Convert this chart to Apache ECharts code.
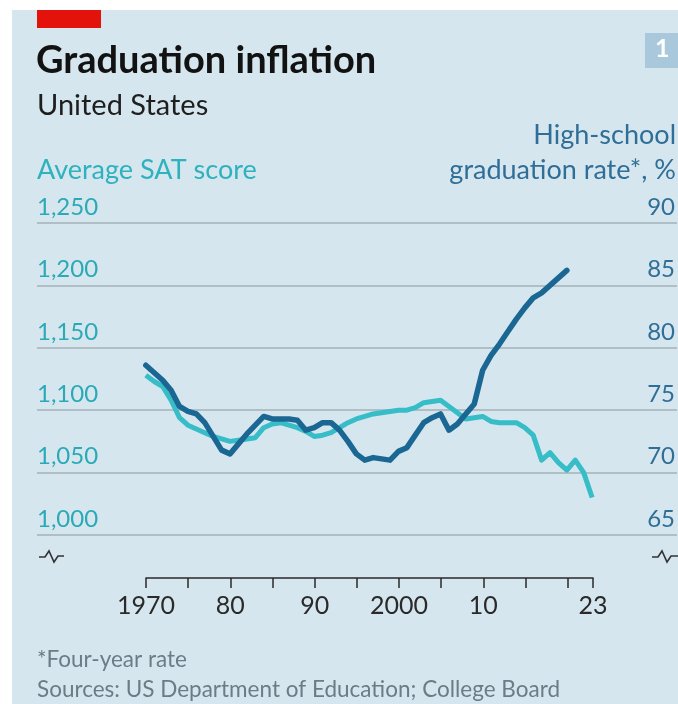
<!DOCTYPE html>
<html>
<head>
<meta charset="utf-8">
<script src="https://cdn.jsdelivr.net/npm/echarts@6/dist/echarts.min.js"></script>
<style>
  html, body { margin: 0; padding: 0; background: #fff; }
  #chart { width: 678px; height: 704px; }
</style>
</head>
<body>
<div id="chart"></div>
<script>
// years 1970-2023
const years = [
  1970, 1971, 1972, 1973, 1974, 1975, 1976, 1977, 1978, 1979,
  1980, 1981, 1982, 1983, 1984, 1985, 1986, 1987, 1988, 1989,
  1990, 1991, 1992, 1993, 1994, 1995, 1996, 1997, 1998, 1999,
  2000, 2001, 2002, 2003, 2004, 2005, 2006, 2007, 2008, 2009,
  2010, 2011, 2012, 2013, 2014, 2015, 2016, 2017, 2018, 2019,
  2020, 2021, 2022, 2023,
];
// average SAT score, 1970-2023
const satScore = [
  1128, 1123, 1119, 1108, 1094, 1088, 1085, 1082, 1079, 1077,
  1075, 1076, 1077, 1078, 1086, 1089, 1090, 1088, 1086, 1083,
  1079, 1080, 1082, 1086, 1090, 1093, 1095, 1097, 1098, 1099,
  1100, 1100, 1102, 1106, 1107, 1108, 1103, 1098, 1093, 1094,
  1095, 1091, 1090, 1090, 1090, 1086, 1080, 1060, 1066, 1058,
  1052, 1060, 1050, 1030,
];
// high-school graduation rate (four-year), %, 1970-2020
const gradRate = [
  78.6, 78.0, 77.4, 76.6, 75.3, 74.9, 74.7, 74.0, 72.9, 71.8,
  71.5, 72.3, 73.1, 73.8, 74.5, 74.3, 74.3, 74.3, 74.2, 73.4,
  73.6, 74.0, 74.0, 73.4, 72.5, 71.5, 71.0, 71.2, 71.1, 71.0,
  71.7, 72.0, 73.0, 74.0, 74.4, 74.7, 73.4, 73.9, 74.7, 75.5,
  78.2, 79.4, 80.3, 81.3, 82.3, 83.2, 84.0, 84.4, 85.0, 85.6,
  86.2,
];
const tickYears = [1970, 1975, 1980, 1985, 1990, 1995, 2000, 2005, 2010, 2015, 2020, 2023];
const labelYears = [1970, 1980, 1990, 2000, 2010, 2023];

const FONT = "Lato, 'Open Sans', sans-serif";
const CYAN = "#36bdc7";
const BLUE = "#1b6794";
const BG = "#d6e6ee";

const chart = echarts.init(document.getElementById("chart"));

const opt = {
  backgroundColor: "#fff",
  animation: false,
  textStyle: { fontFamily: FONT },
  graphic: [
    { type: "rect", z: -10, shape: { x: 12, y: 10, width: 666, height: 694 }, style: { fill: BG } },
    { type: "rect", shape: { x: 37, y: 10, width: 64, height: 18 }, style: { fill: "#e3120b" } },
    { type: "rect", shape: { x: 645, y: 33, width: 40, height: 35 }, style: { fill: "#a9c8dc" } },
    {
      type: "text", left: 655, top: 36,
      style: { text: "1", fill: "#fff", font: "bold 25px " + FONT },
    },
    {
      type: "text", left: 36, top: 42,
      style: { text: "Graduation inflation", fill: "#121212", font: "bold 38px " + FONT },
    },
    {
      type: "text", left: 37, top: 91,
      style: { text: "United States", fill: "#1e1e1e", font: "29px " + FONT },
    },
    {
      type: "text", left: 37, top: 157,
      style: { text: "Average SAT score", fill: "#2eb2bd", font: "27px " + FONT },
    },
    {
      type: "text", right: 2, top: 122,
      style: { text: "High-school", fill: "#2f6e97", font: "27px " + FONT, align: "right" },
    },
    {
      type: "text", right: 2, top: 157,
      style: { text: "graduation rate*, %", fill: "#2f6e97", font: "27px " + FONT, align: "right" },
    },
    {
      type: "text", left: 37, top: 648,
      style: { text: "*Four-year rate", fill: "#6b7c87", font: "22.5px " + FONT },
    },
    {
      type: "text", left: 37, top: 678,
      style: { text: "Sources: US Department of Education; College Board", fill: "#6b7c87", font: "22.5px " + FONT },
    },
    {
      type: "polyline",
      shape: { points: [[39, 557], [45, 557], [49, 551], [54, 562], [58, 556], [64, 556]] },
      style: { stroke: "#333", lineWidth: 1.6, fill: null },
    },
    {
      type: "polyline",
      shape: { points: [[652, 557], [658, 557], [662, 551], [667, 562], [671, 556], [678, 556]] },
      style: { stroke: "#333", lineWidth: 1.6, fill: null },
    },
  ],
  grid: [
    { left: 37, right: 0, top: 223, height: 312 },
    { left: 146, right: 85, top: 560, height: 18 },
  ],
  xAxis: [
    {
      type: "value",
      gridIndex: 0,
      min: 1957.076,
      max: 2033.08,
      show: false,
    },
    {
      type: "value",
      gridIndex: 1,
      min: 1970,
      max: 2023,
      interval: 5,
      axisLine: { lineStyle: { color: "#2a2a2a", width: 1.5 } },
      axisTick: { customValues: tickYears, length: 10, lineStyle: { color: "#2a2a2a", width: 1.5 } },
      axisLabel: {
        customValues: labelYears,
        margin: 15,
        color: "#2a2a2a",
        fontSize: 25,
        fontFamily: FONT,
        formatter: (v) => (v === 1970 || v === 2000 ? String(v) : String(v).slice(2)),
      },
      splitLine: { show: false },
    },
  ],
  yAxis: [
    {
      type: "value",
      gridIndex: 0,
      position: "left",
      min: 1000,
      max: 1250,
      interval: 50,
      axisLine: { show: false },
      axisTick: { show: false },
      splitLine: { lineStyle: { color: "#a3b1b9", width: 1.5 } },
      axisLabel: {
        inside: true,
        margin: 0,
        align: "left",
        verticalAlign: "bottom",
        padding: [0, 0, 4, 0],
        color: "#2aaab6",
        fontSize: 24,
        fontFamily: FONT,
        formatter: (v) => v.toLocaleString("en-US"),
      },
    },
    {
      type: "value",
      gridIndex: 0,
      position: "right",
      min: 65,
      max: 90,
      interval: 5,
      axisLine: { show: false },
      axisTick: { show: false },
      splitLine: { show: false },
      axisLabel: {
        inside: true,
        margin: 2,
        align: "right",
        verticalAlign: "bottom",
        padding: [0, 0, 4, 0],
        color: "#2f6e97",
        fontSize: 24,
        fontFamily: FONT,
      },
    },
    { type: "value", gridIndex: 1, show: false },
  ],
  series: [
    {
      name: "Average SAT score",
      type: "line",
      xAxisIndex: 0,
      yAxisIndex: 0,
      symbol: "none",
      data: years.map((y, i) => [y, satScore[i]]),
      lineStyle: { color: CYAN, width: 5, join: "round" },
    },
    {
      name: "High-school graduation rate",
      type: "line",
      xAxisIndex: 0,
      yAxisIndex: 1,
      symbol: "none",
      data: gradRate.map((v, i) => [years[i], v]),
      lineStyle: { color: BLUE, width: 5.5, join: "round", cap: "round" },
    },
  ],
};

chart.setOption(opt);
</script>
</body>
</html>
